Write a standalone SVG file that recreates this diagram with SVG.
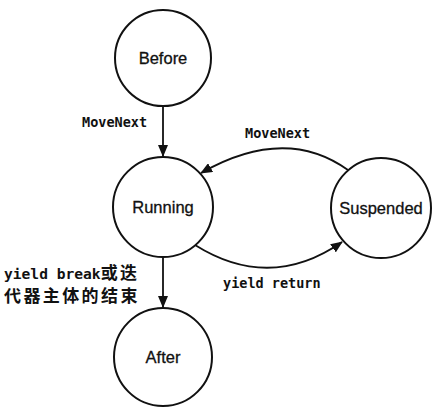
<svg xmlns="http://www.w3.org/2000/svg" width="436" height="412" viewBox="0 0 436 412">
<style>
.node{fill:#fff;stroke:#111;stroke-width:2}
.nl{font-family:"Liberation Sans",Arial,sans-serif;font-size:16.5px;fill:#111;text-anchor:middle;stroke:#111;stroke-width:0.3}
.edge{fill:none;stroke:#111;stroke-width:1.8}
.el{font-family:"DejaVu Sans Mono","Liberation Mono",monospace;font-size:13.5px;font-weight:bold;fill:#111}
.big{font-size:14.6px}
.cjk{font-family:"Noto Sans CJK SC",sans-serif;font-size:17px;font-weight:bold;letter-spacing:2.4px}
</style>
<defs>
<marker id="arr" markerUnits="userSpaceOnUse" markerWidth="12" markerHeight="10" refX="11" refY="5" orient="auto">
<path d="M0,0 L12,5 L0,10 Z" fill="#111"/>
</marker>
</defs>
<rect width="436" height="412" fill="#fff"/>
<g id="connectors">
<line class="edge" x1="163" y1="106" x2="163" y2="156" marker-end="url(#arr)"/>
<path class="edge" d="M348,170 Q285,125 201,173" marker-end="url(#arr)"/>
<path class="edge" d="M195,245 Q270,292 342,242" marker-end="url(#arr)"/>
<line class="edge" x1="163" y1="257" x2="163" y2="307" marker-end="url(#arr)"/>
<text class="el" x="82" y="127">MoveNext</text>
<text class="el" x="245" y="138">MoveNext</text>
<text class="el" x="223" y="288">yield return</text>
<text class="el big" x="4" y="279">yield break<tspan class="cjk">或迭</tspan></text>
<text class="el cjk" x="4" y="302">代器主体的结束</text>
</g>
<g id="before"><circle class="node" cx="163" cy="58" r="48"/><text class="nl" x="163" y="64">Before</text></g>
<g id="running"><circle class="node" cx="163" cy="207" r="50"/><text class="nl" x="163" y="213">Running</text></g>
<g id="suspended"><circle class="node" cx="381" cy="208" r="50"/><text class="nl" x="381" y="214">Suspended</text></g>
<g id="after"><circle class="node" cx="163" cy="357" r="49"/><text class="nl" x="163" y="363">After</text></g>
</svg>
